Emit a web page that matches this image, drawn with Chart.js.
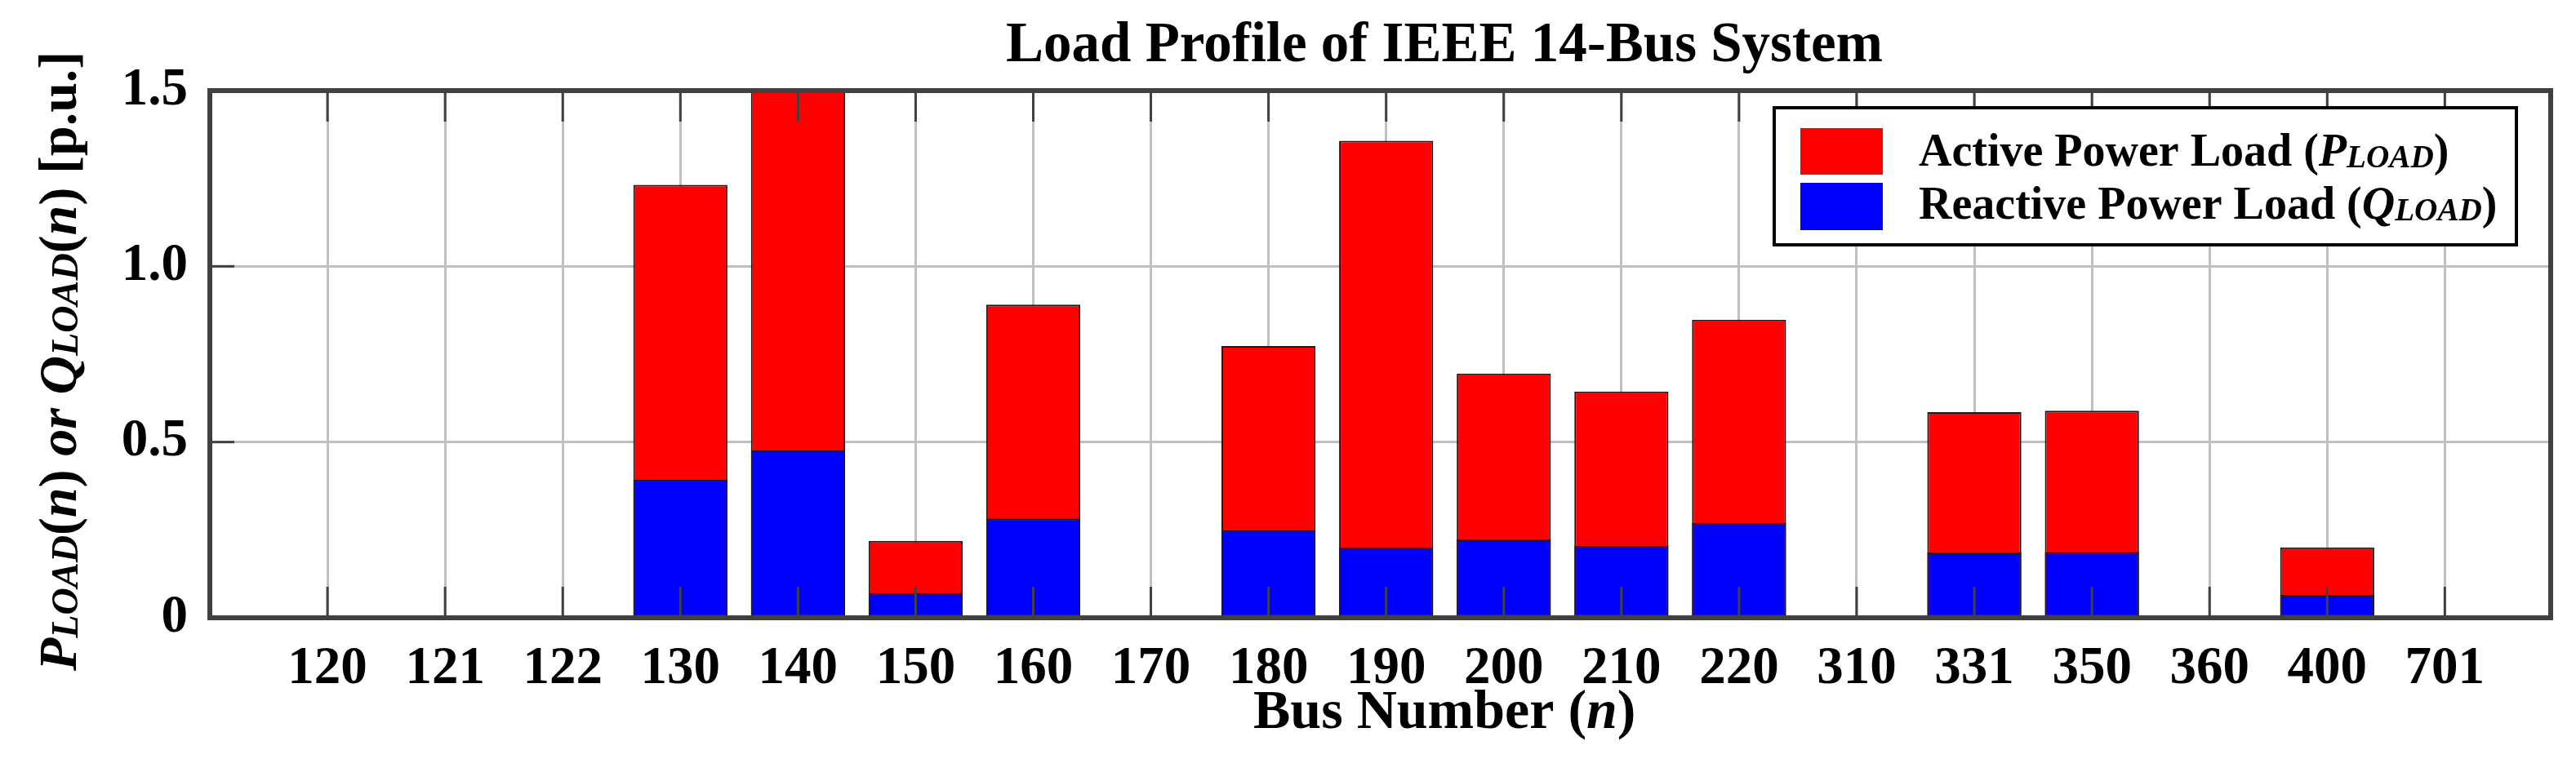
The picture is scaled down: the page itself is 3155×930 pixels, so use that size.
<!DOCTYPE html>
<html>
<head>
<meta charset="utf-8">
<title>Load Profile of IEEE 14-Bus System</title>
<script src="https://cdn.jsdelivr.net/npm/chart.js@4.4.1/dist/chart.umd.min.js"></script>
<style>
  html, body { margin: 0; padding: 0; background: #fff; }
  canvas { display: block; }
</style>
</head>
<body>
<canvas id="loadChart" width="3155" height="930"></canvas>
<script>
// bus numbers on the x axis
const busLabels = ['120', '121', '122', '130', '140', '150', '160', '170', '180', '190',
                   '200', '210', '220', '310', '331', '350', '360', '400', '701'];
// active power load P (p.u.)
const activeLoad = [0, 0, 0, 1.232, 1.5, 0.219, 0.891, 0, 0.773, 1.357,
                    0.695, 0.644, 0.848, 0, 0.585, 0.589, 0, 0.2, 0];
// reactive power load Q (p.u.)
const reactiveLoad = [0, 0, 0, 0.393, 0.476, 0.07, 0.282, 0, 0.249, 0.2,
                      0.223, 0.205, 0.27, 0, 0.186, 0.187, 0, 0.065, 0];
const yTicks = [0, 0.5, 1.0, 1.5];

const serif = '"Liberation Serif", "Times New Roman", serif';
const axisColor = '#404040';
const gridColor = '#c0c0c0';

// draws a run of text pieces (bold / bold italic / small subscript)
function richText(ctx, parts, x, y, size) {
    parts.forEach(function (p) {
        const s = p.sub ? size * 0.7 : size;
        ctx.font = (p.italic ? 'italic ' : '') + 'bold ' + s + 'px ' + serif;
        ctx.fillText(p.text, x, y + (p.sub ? size * 0.03 : 0));
        x += ctx.measureText(p.text).width;
    });
    return x;
}

const decorations = {
    id: 'decorations',
    beforeDraw(chart) {
        const ctx = chart.ctx;
        ctx.save();
        ctx.fillStyle = '#fff';
        ctx.fillRect(0, 0, chart.width, chart.height);
        ctx.restore();
    },
    afterDatasetsDraw(chart) {
        const ctx = chart.ctx;
        const a = chart.chartArea;
        const xs = chart.scales.x, ys = chart.scales.y;
        ctx.save();
        ctx.strokeStyle = axisColor;
        ctx.lineWidth = 3;
        // inner tick marks, top and bottom
        xs.ticks.forEach(function (t) {
            const px = xs.getPixelForValue(t.value);
            ctx.beginPath();
            ctx.moveTo(px, a.bottom); ctx.lineTo(px, a.bottom - 38);
            ctx.moveTo(px, a.top); ctx.lineTo(px, a.top + 38);
            ctx.stroke();
        });
        ys.ticks.forEach(function (t) {
            const py = ys.getPixelForValue(t.value);
            ctx.beginPath();
            ctx.moveTo(a.left, py); ctx.lineTo(a.left + 30, py);
            ctx.stroke();
        });
        // axes box
        ctx.lineWidth = 6;
        ctx.strokeRect(a.left, a.top, a.right - a.left, a.bottom - a.top);
        ctx.restore();
    },
    afterDraw(chart) {
        const ctx = chart.ctx;
        const ds = chart.data.datasets;
        ctx.save();
        ctx.fillStyle = '#000';
        ctx.textBaseline = 'alphabetic';
        ctx.textAlign = 'left';

        // title
        richText(ctx, [{ text: 'Load Profile of IEEE 14-Bus System' }], 1232, 75, 69);

        // x axis label
        richText(ctx, [{ text: 'Bus Number (' }, { text: 'n', italic: true }, { text: ')' }], 1535, 892, 68);

        // y axis label, rotated
        ctx.save();
        ctx.translate(93, 822);
        ctx.rotate(-Math.PI / 2);
        richText(ctx, [
            { text: 'P', italic: true }, { text: 'LOAD', italic: true, sub: true },
            { text: '(' }, { text: 'n', italic: true }, { text: ')' },
            { text: ' or ', italic: true },
            { text: 'Q', italic: true }, { text: 'LOAD', italic: true, sub: true },
            { text: '(' }, { text: 'n', italic: true }, { text: ')' },
            { text: ' [p.u.]' }
        ], 0, 0, 66);
        ctx.restore();

        // legend
        ctx.fillStyle = '#fff';
        ctx.fillRect(2173, 132, 909, 168);
        ctx.strokeStyle = '#000';
        ctx.lineWidth = 4;
        ctx.strokeRect(2173, 132, 909, 168);
        ctx.fillStyle = ds[1].backgroundColor;
        ctx.fillRect(2205, 157, 101, 57);
        ctx.fillStyle = ds[0].backgroundColor;
        ctx.fillRect(2205, 224, 101, 58);
        ctx.fillStyle = '#000';
        richText(ctx, [{ text: 'Active Power Load (' }, { text: 'P', italic: true },
            { text: 'LOAD', italic: true, sub: true }, { text: ')' }], 2350, 203, 56);
        richText(ctx, [{ text: 'Reactive Power Load (' }, { text: 'Q', italic: true },
            { text: 'LOAD', italic: true, sub: true }, { text: ')' }], 2350, 268, 56);
        ctx.restore();
    }
};

const config = {
    type: 'bar',
    data: {
        datasets: [{
            label: 'Reactive Power Load (QLOAD)',
            data: reactiveLoad.map((v, i) => ({ x: i + 1, y: v })),
            backgroundColor: '#0000ff',
            borderColor: '#1a1a1a',
            borderWidth: 2,
            borderSkipped: false,
            grouped: false,
            barPercentage: 0.8,
            categoryPercentage: 1.0
        }, {
            label: 'Active Power Load (PLOAD)',
            data: activeLoad.map((v, i) => ({ x: i + 1, y: v })),
            backgroundColor: '#ff0000',
            borderColor: '#1a1a1a',
            borderWidth: 2,
            borderSkipped: false,
            grouped: false,
            barPercentage: 0.8,
            categoryPercentage: 1.0
        }]
    },
    options: {
        responsive: false,
        animation: false,
        layout: { padding: { top: 111, right: 31, left: 0, bottom: 0 } },
        plugins: {
            legend: { display: false },
            title: { display: false },
            tooltip: { enabled: false }
        },
        scales: {
            x: {
                type: 'linear',
                min: 0,
                max: 19.9,
                offset: false,
                afterBuildTicks: s => { s.ticks = busLabels.map((b, i) => ({ value: i + 1 })); },
                afterFit: s => { s.height = 173; },
                ticks: {
                    autoSkip: false,
                    maxRotation: 0,
                    padding: 24,
                    color: '#000',
                    font: { family: serif, size: 65, weight: 'bold' },
                    callback: v => busLabels[v - 1] || ''
                },
                grid: { color: gridColor, lineWidth: 3, drawTicks: false, offset: false },
                border: { display: false }
            },
            y: {
                min: 0,
                max: 1.5,
                afterBuildTicks: s => { s.ticks = yTicks.map(v => ({ value: v })); },
                afterFit: s => { s.width = 257; },
                ticks: {
                    padding: 27,
                    color: '#000',
                    font: { family: serif, size: 65, weight: 'bold' },
                    callback: v => (v === 0 ? '0' : v.toFixed(1))
                },
                grid: { color: gridColor, lineWidth: 3, drawTicks: false },
                border: { display: false }
            }
        }
    },
    plugins: [decorations]
};

const context = document.getElementById('loadChart').getContext('2d');
const loadChart = new Chart(context, config);
</script>
</body>
</html>
